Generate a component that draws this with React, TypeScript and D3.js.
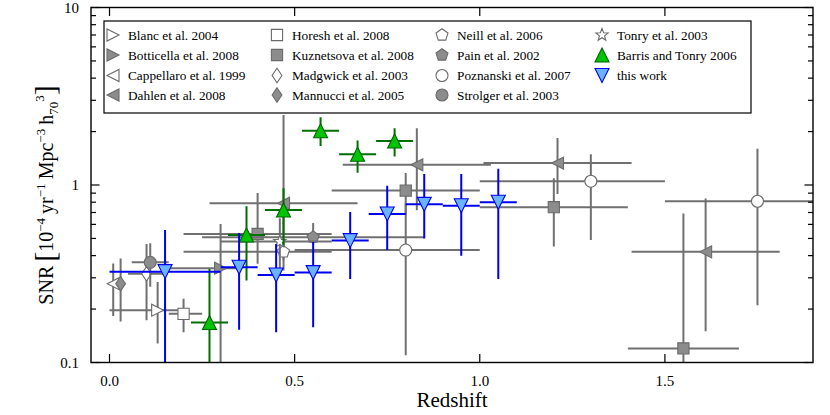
import { useEffect, useRef } from 'react'
import * as d3 from 'd3'

// each row: [z, zLo, zHi, rate, rateLo, rateHi]  (rate in 1e-4 yr^-1 Mpc^-3 h70^3)
type Row = [number, number, number, number, number, number]

const blanc2004: Row[] = [[0.13, 0.0, 0.2, 0.197, 0.128, 0.284]]
const botticella2008: Row[] = [[0.3, 0.15, 0.35, 0.34, 0.05, 0.603]]
const cappellaro1999: Row[] = [[0.01, 0.01, 0.01, 0.278, 0.183, 0.361]]
const dahlen2008: Row[] = [
  [0.47, 0.27, 0.67, 0.79, 0.38, 2.48],
  [0.83, 0.63, 1.03, 1.3, 0.72, 2.09],
  [1.21, 1.01, 1.41, 1.33, 0.89, 1.84],
  [1.61, 1.41, 1.81, 0.42, 0.15, 0.84],
]
const horesh2008: Row[] = [[0.2, 0.16, 0.25, 0.188, 0.148, 0.229]]
const kuznetsova2008: Row[] = [
  [0.4, 0.2, 0.6, 0.53, 0.36, 0.9],
  [0.8, 0.6, 1.0, 0.93, 0.68, 1.17],
  [1.2, 1.0, 1.4, 0.75, 0.45, 1.09],
  [1.55, 1.4, 1.7, 0.12, 0.05, 0.69],
]
const madgwick2003: Row[] = [[0.1, 0.05, 0.15, 0.316, 0.173, 0.465]]
const mannucci2005: Row[] = [[0.03, 0.03, 0.03, 0.278, 0.17, 0.386]]
const neill2006: Row[] = [[0.47, 0.2, 0.6, 0.42, 0.33, 0.49]]
const pain2002: Row[] = [[0.55, 0.25, 0.85, 0.508, 0.46, 0.61]]
const poznanski2007: Row[] = [
  [0.8, 0.5, 1.0, 0.43, 0.11, 0.79],
  [1.3, 1.0, 1.5, 1.05, 0.49, 1.49],
  [1.75, 1.5, 2.0, 0.81, 0.21, 1.6],
]
const strolger2003: Row[] = [[0.11, 0.06, 0.16, 0.367, 0.267, 0.47]]
const tonry2003: Row[] = [[0.46, 0.3, 0.6, 0.48, 0.31, 0.65]]
const barrisTonry2006: Row[] = [
  [0.27, 0.22, 0.32, 0.168, 0.05, 0.336],
  [0.37, 0.32, 0.42, 0.523, 0.29, 0.76],
  [0.47, 0.42, 0.52, 0.723, 0.458, 0.96],
  [0.57, 0.52, 0.62, 2.02, 1.66, 2.41],
  [0.67, 0.62, 0.72, 1.49, 1.174, 1.78],
  [0.77, 0.72, 0.82, 1.77, 1.445, 2.09],
]
const thisWork: Row[] = [
  [0.15, 0.0, 0.3, 0.325, 0.05, 0.558],
  [0.35, 0.3, 0.4, 0.344, 0.153, 0.537],
  [0.45, 0.4, 0.5, 0.311, 0.148, 0.465],
  [0.55, 0.5, 0.6, 0.321, 0.158, 0.478],
  [0.65, 0.6, 0.7, 0.486, 0.295, 0.704],
  [0.75, 0.7, 0.8, 0.687, 0.431, 0.99],
  [0.85, 0.8, 0.9, 0.778, 0.5, 1.155],
  [0.95, 0.9, 1.0, 0.764, 0.4, 1.155],
  [1.05, 1.0, 1.1, 0.799, 0.295, 1.233],
]

const xTicks = [0, 0.5, 1, 1.5]
const xTickLabels = ['0.0', '0.5', '1.0', '1.5']
const yTicks = [0.1, 1, 10]
const yTickLabels = ['0.1', '1', '10']

const GRAY_LINE = '#707070'
const GRAY_FILL = '#8c8c8c'
const GRAY_EDGE = '#6a6a6a'
const OPEN_FILL = '#ffffff'
const GREEN_LINE = '#006e00'
const GREEN_FILL = '#00c400'
const GREEN_EDGE = '#006400'
const BLUE_LINE = '#0000f0'
const BLUE_FILL = '#6ab4ff'
const BLUE_EDGE = '#0000f0'

type Series = {
  label: string
  rows: Row[]
  shape: string
  size: number
  fill: string
  edge: string
  line: string
}

const series: Series[] = [
  { label: 'Blanc et al. 2004', rows: blanc2004, shape: 'triRight', size: 6, fill: OPEN_FILL, edge: GRAY_EDGE, line: GRAY_LINE },
  { label: 'Botticella et al. 2008', rows: botticella2008, shape: 'triRight', size: 6, fill: GRAY_FILL, edge: GRAY_EDGE, line: GRAY_LINE },
  { label: 'Cappellaro et al. 1999', rows: cappellaro1999, shape: 'triLeft', size: 6, fill: OPEN_FILL, edge: GRAY_EDGE, line: GRAY_LINE },
  { label: 'Dahlen et al. 2008', rows: dahlen2008, shape: 'triLeft', size: 6, fill: GRAY_FILL, edge: GRAY_EDGE, line: GRAY_LINE },
  { label: 'Horesh et al. 2008', rows: horesh2008, shape: 'square', size: 5.6, fill: OPEN_FILL, edge: GRAY_EDGE, line: GRAY_LINE },
  { label: 'Kuznetsova et al. 2008', rows: kuznetsova2008, shape: 'square', size: 5.6, fill: GRAY_FILL, edge: GRAY_EDGE, line: GRAY_LINE },
  { label: 'Madgwick et al. 2003', rows: madgwick2003, shape: 'diamond', size: 7.2, fill: OPEN_FILL, edge: GRAY_EDGE, line: GRAY_LINE },
  { label: 'Mannucci et al. 2005', rows: mannucci2005, shape: 'diamond', size: 7.2, fill: GRAY_FILL, edge: GRAY_EDGE, line: GRAY_LINE },
  { label: 'Neill et al. 2006', rows: neill2006, shape: 'pentagon', size: 6.3, fill: OPEN_FILL, edge: GRAY_EDGE, line: GRAY_LINE },
  { label: 'Pain et al. 2002', rows: pain2002, shape: 'pentagon', size: 6.3, fill: GRAY_FILL, edge: GRAY_EDGE, line: GRAY_LINE },
  { label: 'Poznanski et al. 2007', rows: poznanski2007, shape: 'circle', size: 6, fill: OPEN_FILL, edge: GRAY_EDGE, line: GRAY_LINE },
  { label: 'Strolger et al. 2003', rows: strolger2003, shape: 'circle', size: 6, fill: GRAY_FILL, edge: GRAY_EDGE, line: GRAY_LINE },
  { label: 'Tonry et al. 2003', rows: tonry2003, shape: 'star', size: 6.5, fill: OPEN_FILL, edge: GRAY_EDGE, line: GRAY_LINE },
  { label: 'Barris and Tonry 2006', rows: barrisTonry2006, shape: 'triUp', size: 7, fill: GREEN_FILL, edge: GREEN_EDGE, line: GREEN_LINE },
  { label: 'this work', rows: thisWork, shape: 'triDown', size: 7, fill: BLUE_FILL, edge: BLUE_EDGE, line: BLUE_LINE },
]

function shapePath(shape: string, s: number): string {
  switch (shape) {
    case 'triUp':
      return `M0,${-s}L${s},${s}L${-s},${s}Z`
    case 'triDown':
      return `M0,${s}L${s},${-s}L${-s},${-s}Z`
    case 'triRight':
      return `M${s},0L${-s},${-s}L${-s},${s}Z`
    case 'triLeft':
      return `M${-s},0L${s},${-s}L${s},${s}Z`
    case 'square':
      return `M${-s},${-s}H${s}V${s}H${-s}Z`
    case 'diamond':
      return `M0,${-s}L${s * 0.68},0L0,${s}L${-s * 0.68},0Z`
    case 'circle':
      return `M${s},0A${s},${s} 0 1,1 ${-s},0A${s},${s} 0 1,1 ${s},0Z`
    case 'pentagon': {
      const pts = d3.range(5).map((k) => {
        const a = (-90 + 72 * k) * (Math.PI / 180)
        return [s * Math.cos(a), s * Math.sin(a)]
      })
      return 'M' + pts.map((p) => p.join(',')).join('L') + 'Z'
    }
    case 'star': {
      const pts = d3.range(10).map((k) => {
        const a = (-90 + 36 * k) * (Math.PI / 180)
        const r = k % 2 === 0 ? s : s * 0.42
        return [r * Math.cos(a), r * Math.sin(a)]
      })
      return 'M' + pts.map((p) => p.join(',')).join('L') + 'Z'
    }
  }
  return ''
}

const W = 830
const H = 415

export default function App() {
  const ref = useRef<SVGSVGElement | null>(null)

  useEffect(() => {
    const svg = d3.select(ref.current)
    svg.selectAll('*').remove()
    svg.attr('width', W).attr('height', H).style('font-family', '"Liberation Serif", "DejaVu Serif", serif')

    const left = 91
    const right = 813
    const top = 7.5
    const bottom = 362.5

    const x = d3.scaleLinear().domain([-0.05, 1.9]).range([left, right])
    const y = d3.scaleLog().domain([0.1, 10]).range([bottom, top])

    svg.append('defs')
      .append('clipPath')
      .attr('id', 'plot-clip')
      .append('rect')
      .attr('x', left)
      .attr('y', top)
      .attr('width', right - left)
      .attr('height', bottom - top)

    const plot = svg.append('g').attr('clip-path', 'url(#plot-clip)')

    series.forEach((s) => {
      const g = plot.append('g')
      s.rows.forEach((r) => {
        const [z, zLo, zHi, rate, rLo, rHi] = r
        if (zHi > zLo) {
          g.append('line')
            .attr('x1', x(zLo)).attr('x2', x(zHi))
            .attr('y1', y(rate)).attr('y2', y(rate))
            .attr('stroke', s.line).attr('stroke-width', 2)
        }
        g.append('line')
          .attr('x1', x(z)).attr('x2', x(z))
          .attr('y1', y(rLo)).attr('y2', y(rHi))
          .attr('stroke', s.line).attr('stroke-width', 2)
      })
      s.rows.forEach((r) => {
        g.append('path')
          .attr('d', shapePath(s.shape, s.size))
          .attr('transform', `translate(${x(r[0])},${y(r[3])})`)
          .attr('fill', s.fill)
          .attr('stroke', s.edge)
          .attr('stroke-width', 1.1)
      })
    })

    // frame
    svg.append('rect')
      .attr('x', left).attr('y', top)
      .attr('width', right - left).attr('height', bottom - top)
      .attr('fill', 'none').attr('stroke', '#000').attr('stroke-width', 1.4)

    const ticks = svg.append('g').attr('stroke', '#000').attr('stroke-width', 1.2)
    xTicks.forEach((t) => {
      ticks.append('line').attr('x1', x(t)).attr('x2', x(t)).attr('y1', bottom).attr('y2', bottom - 8.5)
      ticks.append('line').attr('x1', x(t)).attr('x2', x(t)).attr('y1', top).attr('y2', top + 8.5)
    })
    yTicks.forEach((t) => {
      ticks.append('line').attr('x1', left).attr('x2', left + 8.5).attr('y1', y(t)).attr('y2', y(t))
      ticks.append('line').attr('x1', right).attr('x2', right - 8.5).attr('y1', y(t)).attr('y2', y(t))
    })
    const minors: number[] = []
    ;[0.1, 1].forEach((d) => d3.range(2, 10).forEach((k) => minors.push(d * k)))
    minors.forEach((t) => {
      ticks.append('line').attr('x1', left).attr('x2', left + 5).attr('y1', y(t)).attr('y2', y(t))
      ticks.append('line').attr('x1', right).attr('x2', right - 5).attr('y1', y(t)).attr('y2', y(t))
    })

    xTicks.forEach((t, i) => {
      svg.append('text')
        .attr('x', x(t)).attr('y', 386)
        .attr('text-anchor', 'middle')
        .style('font-size', '15px')
        .text(xTickLabels[i])
    })
    yTicks.forEach((t, i) => {
      svg.append('text')
        .attr('x', 79).attr('y', y(t) + 5)
        .attr('text-anchor', 'end')
        .style('font-size', '15px')
        .text(yTickLabels[i])
    })

    svg.append('text')
      .attr('x', 452).attr('y', 407)
      .attr('text-anchor', 'middle')
      .style('font-size', '21px')
      .text('Redshift')

    // y label with super/subscripts
    const yl = svg.append('text')
      .attr('transform', 'translate(53,195) rotate(-90)')
      .attr('text-anchor', 'middle')
      .style('font-size', '20px')
    const parts: [string, number, number][] = [
      ['SNR\u2009', 20, 0],
      ['[', 30, 2],
      ['10', 20, -2],
      ['\u22124', 13, -8],
      ['\u2009yr', 20, 8],
      ['\u22121', 13, -8],
      ['\u2009Mpc', 20, 8],
      ['\u22123', 13, -8],
      ['\u2009h', 20, 8],
      ['70', 13, 5],
      ['3', 13, -14],
      [']', 30, 11],
    ]
    parts.forEach(([t, fs, dy]) => {
      yl.append('tspan').attr('dy', dy).style('font-size', fs + 'px').text(t)
    })

    // legend
    const lg = svg.append('g')
    lg.append('rect')
      .attr('x', 104).attr('y', 21)
      .attr('width', 647).attr('height', 92)
      .attr('fill', '#fff').attr('stroke', '#000').attr('stroke-width', 1.2)
    const colX = [113, 277, 442, 602]
    const rowY = [35, 55, 75.5, 95]
    series.forEach((s, i) => {
      const cx = colX[Math.floor(i / 4)]
      const cy = rowY[i % 4]
      lg.append('path')
        .attr('d', shapePath(s.shape, s.size))
        .attr('transform', `translate(${cx},${cy})`)
        .attr('fill', s.fill)
        .attr('stroke', s.edge)
        .attr('stroke-width', 1.1)
      lg.append('text')
        .attr('x', cx + 15).attr('y', cy + 4.5)
        .style('font-size', '13.3px')
        .text(s.label)
    })
  }, [])

  return <svg ref={ref} style={{ position: 'absolute', left: 0, top: 0, background: '#fff' }} />
}
